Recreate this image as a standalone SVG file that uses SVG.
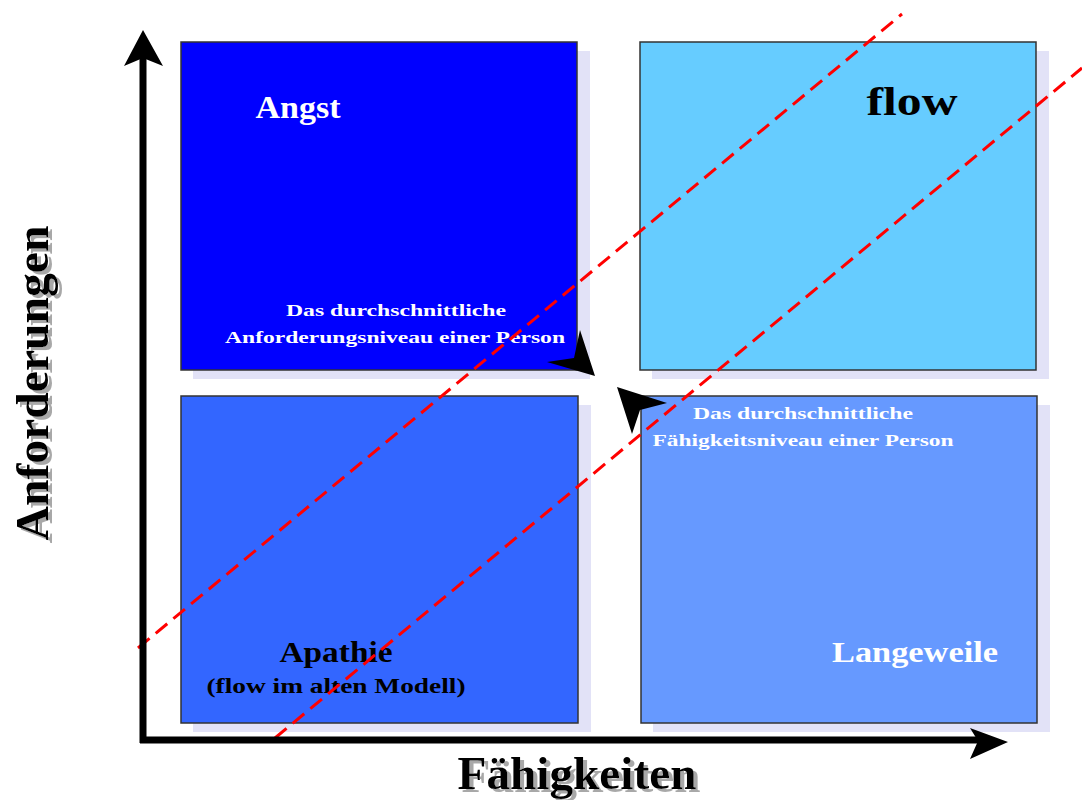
<svg xmlns="http://www.w3.org/2000/svg" width="1082" height="800" viewBox="0 0 1082 800">
<style>
.box{stroke:#333;stroke-width:1.5}
.shadow{fill:#E2E2F7}
.big{font-family:"Liberation Serif",serif;font-weight:bold;font-size:30px}
.small{font-family:"Liberation Serif",serif;font-weight:bold;font-size:17px;fill:#fff}
.axislabel{font-family:"Liberation Serif",serif;font-weight:bold;font-size:46px;fill:#000}
.dash{stroke:#FF0000;stroke-width:3;stroke-dasharray:15 8;fill:none}
</style>
<defs>
<filter id="tshadow" x="-10%" y="-10%" width="120%" height="130%">
<feOffset in="SourceAlpha" dx="4" dy="3" result="off"/>
<feFlood flood-color="#A8A8A8"/>
<feComposite in2="off" operator="in" result="sh"/>
<feMerge><feMergeNode in="sh"/><feMergeNode in="SourceGraphic"/></feMerge>
</filter>
<filter id="tshadowv" x="-10%" y="-30%" width="120%" height="160%">
<feOffset in="SourceAlpha" dx="-3" dy="4" result="off"/>
<feFlood flood-color="#A8A8A8"/>
<feComposite in2="off" operator="in" result="sh"/>
<feMerge><feMergeNode in="sh"/><feMergeNode in="SourceGraphic"/></feMerge>
</filter>
</defs>
<rect width="1082" height="800" fill="#fff"/>
<g id="angst">
<rect class="shadow" x="193" y="51" width="397" height="328"/>
<rect class="box" x="181" y="42" width="396" height="328" fill="#0000FF"/>
<text class="big" x="298" y="118" text-anchor="middle" fill="#fff" style="font-size:31px" textLength="85" lengthAdjust="spacingAndGlyphs">Angst</text>
<text class="small" x="396" y="316" text-anchor="middle" textLength="220" lengthAdjust="spacingAndGlyphs">Das durchschnittliche</text>
<text class="small" x="395" y="343" text-anchor="middle" textLength="340" lengthAdjust="spacingAndGlyphs">Anforderungsniveau einer Person</text>
</g>
<g id="flow">
<rect class="shadow" x="652" y="51" width="397" height="328"/>
<rect class="box" x="640" y="42" width="396" height="328" fill="#66CCFF"/>
<text class="big" x="912" y="115" text-anchor="middle" fill="#000" style="font-size:40px" textLength="91" lengthAdjust="spacingAndGlyphs">flow</text>
</g>
<g id="apathie">
<rect class="shadow" x="193" y="405" width="398" height="327"/>
<rect class="box" x="181" y="396" width="397" height="327" fill="#3366FF"/>
<text class="big" x="336" y="662" text-anchor="middle" fill="#000" textLength="113" lengthAdjust="spacingAndGlyphs">Apathie</text>
<text class="big" x="336" y="693" text-anchor="middle" fill="#000" style="font-size:21px" textLength="259" lengthAdjust="spacingAndGlyphs">(flow im alten Modell)</text>
</g>
<g id="langeweile">
<rect class="shadow" x="653" y="405" width="397" height="327"/>
<rect class="box" x="641" y="396" width="396" height="327" fill="#6699FF"/>
<text class="small" x="803" y="419" text-anchor="middle" textLength="220" lengthAdjust="spacingAndGlyphs">Das durchschnittliche</text>
<text class="small" x="803" y="446" text-anchor="middle" textLength="301" lengthAdjust="spacingAndGlyphs">Fähigkeitsniveau einer Person</text>
<text class="big" x="915" y="662" text-anchor="middle" fill="#fff" textLength="166" lengthAdjust="spacingAndGlyphs">Langeweile</text>
</g>
<g id="connectors">
<line class="dash" x1="138" y1="648" x2="902" y2="14"/>
<line class="dash" x1="275" y1="738" x2="1082" y2="68"/>
<line x1="143" y1="743" x2="143" y2="55" stroke="#000" stroke-width="7"/>
<polygon points="143,30 163,66 143,58 124,66" fill="#000"/>
<line x1="140" y1="740" x2="985" y2="740" stroke="#000" stroke-width="7"/>
<polygon points="1008,742 970,759 978,741 970,728" fill="#000"/>
<polygon points="595,376 580,330 574,358 547,362" fill="#000"/>
<polygon points="617,387 667,403 640,410 632,434" fill="#000"/>
</g>
<g id="axis-labels">
<text class="axislabel" x="577" y="789" text-anchor="middle" filter="url(#tshadow)" textLength="239" lengthAdjust="spacingAndGlyphs">Fähigkeiten</text>
<text class="axislabel" transform="translate(48,383) rotate(-90)" text-anchor="middle" filter="url(#tshadowv)" textLength="315" lengthAdjust="spacingAndGlyphs">Anforderungen</text>
</g>
</svg>
